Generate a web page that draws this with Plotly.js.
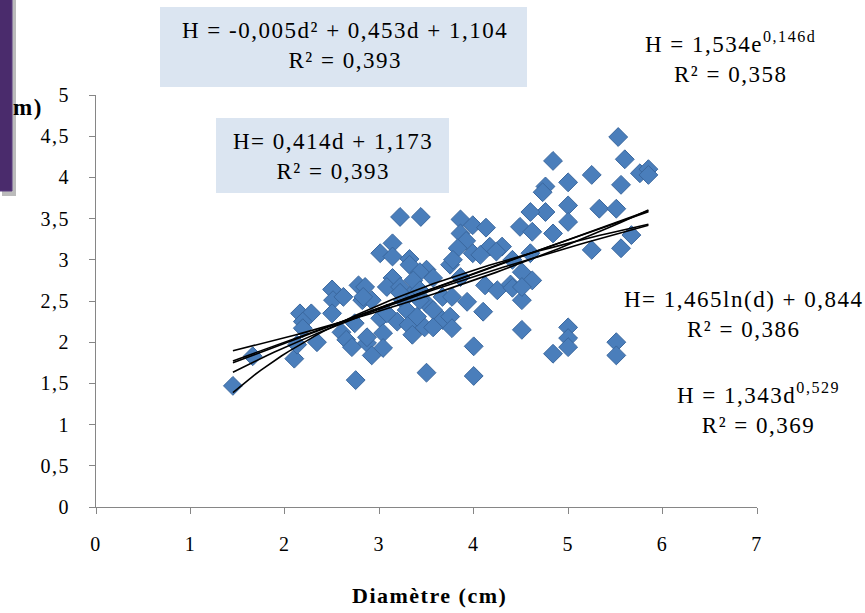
<!DOCTYPE html>
<html>
<head>
<meta charset="utf-8">
<script src="https://cdn.plot.ly/plotly-3.0.1.min.js"></script>
<style>
  html, body { margin: 0; padding: 0; background: #ffffff; }
  #chart { width: 865px; height: 613px; }
  /* the chart's serif lettering is set fairly loose */
  svg text { letter-spacing: 1.5px; }
</style>
</head>
<body>
<div id="chart"></div>
<script>
// Diamètre (cm) and hauteur (m) of the measured stems
const diametre = [
  1.45, 1.66, 2.10, 2.13, 2.16, 2.28, 2.19, 2.19, 2.34, 2.50,
  2.51, 2.62, 2.50, 2.60, 2.65, 2.71, 2.75, 2.74, 2.78, 2.82,
  3.22, 3.44, 3.86, 3.99, 4.13, 3.86, 3.92, 3.83, 3.99, 4.17,
  4.30, 3.14, 3.01, 3.14, 3.32, 3.32, 3.50, 3.43, 3.75, 3.86,
  3.14, 2.85, 3.08, 3.22, 2.92, 3.25, 3.67, 3.77, 3.50, 3.93,
  4.12, 4.25, 3.29, 3.57, 4.10, 3.01, 3.19, 3.31, 3.48, 3.67,
  3.75, 3.77, 3.04, 2.87, 3.04, 2.92, 3.35, 4.00, 3.50, 4.00,
  4.39, 4.51, 4.62, 4.51, 3.36, 3.43, 5.53, 4.84, 5.60, 5.25,
  5.76, 5.85, 5.85, 5.00, 5.56, 4.76, 4.73, 5.00, 4.76, 4.60,
  5.33, 5.51, 5.00, 4.49, 4.62, 4.84, 5.67, 5.25, 5.56, 4.60,
  4.41, 4.41, 4.51, 4.51, 5.00, 5.00, 5.00, 4.84, 5.51, 5.51,
  2.83, 3.36, 3.22, 3.08, 2.87, 3.57, 3.78, 4.07, 4.24, 3.43,
  3.40, 3.57
];
const hauteur = [
  1.47, 1.83, 1.80, 1.97, 2.35, 2.35, 2.25, 2.17, 2.00, 2.64,
  2.51, 2.55, 2.35, 2.12, 2.03, 1.94, 1.54, 2.23, 2.69, 2.51,
  3.52, 3.52, 3.49, 3.42, 3.39, 3.32, 3.23, 3.14, 3.08, 3.16,
  3.16, 3.20, 3.08, 3.04, 3.01, 2.94, 2.88, 2.85, 2.94, 2.79,
  2.78, 2.67, 2.67, 2.67, 2.51, 2.51, 2.55, 2.55, 2.47, 2.49,
  2.69, 2.63, 2.39, 2.39, 2.37, 2.29, 2.25, 2.21, 2.18, 2.27,
  2.31, 2.17, 2.11, 1.99, 1.93, 1.84, 2.09, 1.95, 1.63, 1.59,
  2.70, 2.85, 2.75, 2.51, 2.60, 2.51, 4.49, 4.20, 4.22, 4.03,
  4.05, 4.10, 4.03, 3.94, 3.91, 3.89, 3.82, 3.66, 3.58, 3.58,
  3.62, 3.62, 3.46, 3.40, 3.34, 3.32, 3.30, 3.12, 3.14, 3.08,
  3.00, 2.66, 2.67, 2.15, 2.18, 2.05, 1.94, 1.86, 2.00, 1.84,
  2.55, 2.75, 2.60, 2.35, 2.06, 2.78, 3.00, 3.06, 3.10, 2.63,
  2.31, 2.18
];

// Fitted models, coefficients as printed on the chart
const linCoef  = [0.414, 1.173];          // H = a d + b
const quadCoef = [-0.005, 0.453, 1.104];  // H = a d² + b d + c
const expCoef  = [1.534, 0.146];          // H = a e^(b d)
const logCoef  = [1.465, 0.844];          // H = a ln(d) + b
const powCoef  = [1.343, 0.529];          // H = a d^b

const xTicks = [0, 1, 2, 3, 4, 5, 6, 7];
const yTicks = [0, 0.5, 1, 1.5, 2, 2.5, 3, 3.5, 4, 4.5, 5];
const yTickText = ['0', '0,5', '1', '1,5', '2', '2,5', '3', '3,5', '4', '4,5', '5'];

// Trend curves span the observed diameter range
const dMin = Math.min(...diametre);
const dMax = Math.max(...diametre);
const nSteps = 60;
const dGrid = [];
for (let i = 0; i <= nSteps; i++) dGrid.push(dMin + (dMax - dMin) * i / nSteps);

const models = [
  d => linCoef[0] * d + linCoef[1],
  d => quadCoef[0] * d * d + quadCoef[1] * d + quadCoef[2],
  d => expCoef[0] * Math.exp(expCoef[1] * d),
  d => logCoef[0] * Math.log(d) + logCoef[1],
  d => powCoef[0] * Math.pow(d, powCoef[1])
];

const traces = [{
  type: 'scatter',
  mode: 'markers',
  x: diametre,
  y: hauteur,
  marker: {
    symbol: 'diamond',
    size: 14.5,
    color: '#4a7ebb',
    line: { color: '#3a679e', width: 1 }
  },
  hoverinfo: 'x+y'
}];
models.forEach(f => {
  traces.push({
    type: 'scatter',
    mode: 'lines',
    x: dGrid,
    y: dGrid.map(f),
    line: { color: '#000000', width: 1.6 },
    hoverinfo: 'skip'
  });
});

// pixel helpers for the 865x613 page (plot area 96..757 x 95..507)
const L = 96, R = 757, T = 95, B = 507;
const px = v => (v - L) / (R - L);
const py = v => (B - v) / (B - T);

const serif = 'Liberation Serif';
const eqFont = { family: serif, size: 23, color: '#000000' };

const layout = {
  width: 865,
  height: 613,
  margin: { l: L, r: 865 - R, t: T, b: 613 - B },
  paper_bgcolor: '#ffffff',
  plot_bgcolor: '#ffffff',
  showlegend: false,
  separators: ', ',
  font: { family: serif, size: 18, color: '#000000' },
  xaxis: {
    range: [0, 7],
    tickmode: 'array',
    tickvals: xTicks,
    ticktext: xTicks.map(String),
    ticks: 'outside',
    ticklen: 6,
    tickcolor: '#868686',
    ticklabelstandoff: 13,
    showline: true,
    linecolor: '#868686',
    linewidth: 1,
    showgrid: false,
    zeroline: false,
    tickfont: { family: serif, size: 20, color: '#000000' }
  },
  yaxis: {
    range: [0, 5],
    tickmode: 'array',
    tickvals: yTicks,
    ticktext: yTickText,
    ticks: 'outside',
    ticklen: 6,
    tickcolor: '#868686',
    ticklabelstandoff: 15,
    showline: true,
    linecolor: '#868686',
    linewidth: 1,
    showgrid: false,
    zeroline: false,
    tickfont: { family: serif, size: 20, color: '#000000' }
  },
  shapes: [
    // equation boxes
    { type: 'rect', xref: 'paper', yref: 'paper', layer: 'below',
      x0: px(160), x1: px(527), y0: py(87), y1: py(7),
      fillcolor: '#dbe5f1', line: { width: 0 } },
    { type: 'rect', xref: 'paper', yref: 'paper', layer: 'below',
      x0: px(216), x1: px(449), y0: py(193), y1: py(118),
      fillcolor: '#dbe5f1', line: { width: 0 } },
    // purple side band with its shadow
    { type: 'rect', xref: 'paper', yref: 'paper', layer: 'above',
      x0: px(2), x1: px(16), y0: py(196), y1: py(0),
      fillcolor: 'rgba(60,60,60,0.35)', line: { width: 0 } },
    { type: 'rect', xref: 'paper', yref: 'paper', layer: 'above',
      x0: px(-2), x1: px(12), y0: py(191), y1: py(-2),
      fillcolor: '#4a2b6c', line: { color: '#5d3f82', width: 1 } }
  ],
  annotations: [
    { xref: 'paper', yref: 'paper', x: px(345), y: py(46), xanchor: 'center', yanchor: 'middle',
      showarrow: false, font: eqFont, align: 'center',
      text: 'H = -0,005d² + 0,453d + 1,104<br>R² = 0,393' },
    { xref: 'paper', yref: 'paper', x: px(333), y: py(156), xanchor: 'center', yanchor: 'middle',
      showarrow: false, font: eqFont, align: 'center',
      text: 'H= 0,414d + 1,173<br>R² = 0,393' },
    { xref: 'paper', yref: 'paper', x: px(730), y: py(58), xanchor: 'center', yanchor: 'middle',
      showarrow: false, font: eqFont, align: 'center',
      text: 'H = 1,534e<sup>0,146d</sup><br>R² = 0,358' },
    { xref: 'paper', yref: 'paper', x: px(744), y: py(314), xanchor: 'center', yanchor: 'middle',
      showarrow: false, font: eqFont, align: 'center',
      text: 'H= 1,465ln(d) + 0,844<br>R² = 0,386' },
    { xref: 'paper', yref: 'paper', x: px(758), y: py(408), xanchor: 'center', yanchor: 'middle',
      showarrow: false, font: eqFont, align: 'center',
      text: 'H = 1,343d<sup>0,529</sup><br>R² = 0,369' },
    // axis titles
    { xref: 'paper', yref: 'paper', x: px(429), y: py(595), xanchor: 'center', yanchor: 'middle',
      showarrow: false, font: { family: serif, size: 22, color: '#000000' },
      text: '<b>Diamètre (cm)</b>' },
    { xref: 'paper', yref: 'paper', x: px(45), y: py(107), xanchor: 'right', yanchor: 'middle',
      showarrow: false, font: { family: serif, size: 23, color: '#000000' },
      text: '<b>m)</b>' }
  ]
};

Plotly.newPlot('chart', traces, layout, { staticPlot: true, displayModeBar: false });
</script>
</body>
</html>
